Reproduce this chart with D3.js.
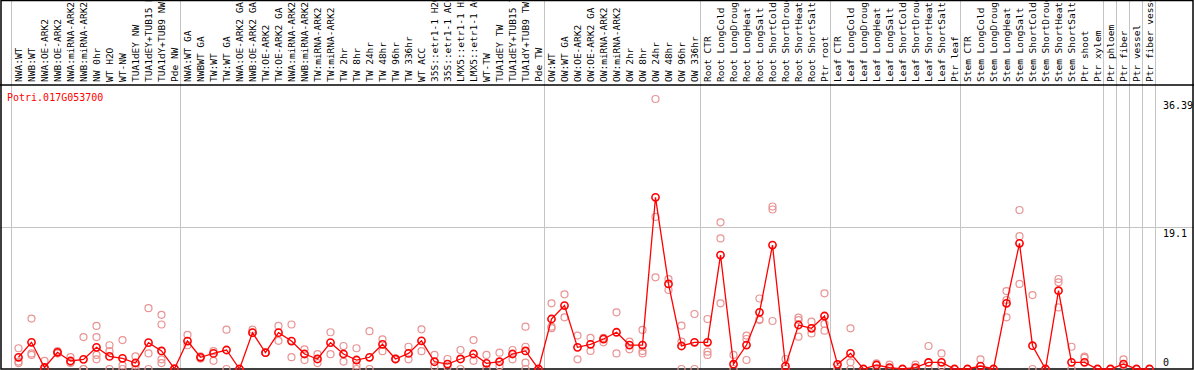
<!DOCTYPE html>
<html>
<head>
<meta charset="utf-8">
<script src="https://cdn.jsdelivr.net/npm/d3@7"></script>
<style>
  body { margin: 0; background: #fff; }
  svg { display: block; }
</style>
</head>
<body>
<div id="chart"></div>
<script>
// gene shown
const geneId = "Potri.017G053700";

// sample names, left to right
const samples = [
  "NWA:WT", "NWB:WT", "NWA:OE-ARK2", "NWB:OE-ARK2", "NWA:miRNA-ARK2", "NWB:miRNA-ARK2",
  "NW 0hr", "WT H2O", "WT-NW", "TUA1dEY NW", "TUA1dEY+TUB15 NW", "TUA1dY+TUB9 NW", "Pde NW",
  "NWA:WT GA", "NWBWT GA", "TW:WT", "TW:WT GA", "NWA:OE-ARK2 GA", "NWB:OE-ARK2 GA",
  "TW:OE-ARK2", "TW:OE-ARK2 GA", "NWA:miRNA-ARK2", "NWB:miRNA-ARK2", "TW:miRNA-ARK2",
  "TW:miRNA-ARK2", "TW 2hr", "TW 8hr", "TW 24hr", "TW 48hr", "TW 96hr", "TW 336hr",
  "WT ACC", "35S::etr1-1 H2O", "35S::etr1-1 ACC", "LMX5::etr1-1 H2O", "LMX5::etr1-1 ACC",
  "WT-TW", "TUA1dEY TW", "TUA1dEY+TUB15 TW", "TUA1dY+TUB9 TW", "Pde TW",
  "OW:WT", "OW:WT GA", "OW:OE-ARK2", "OW:OE-ARK2 GA", "OW:miRNA-ARK2", "OW:miRNA-ARK2",
  "OW 2hr", "OW 8hr", "OW 24hr", "OW 48hr", "OW 96hr", "OW 336hr",
  "Root CTR", "Root LongCold", "Root LongDrought", "Root LongHeat", "Root LongSalt",
  "Root ShortCold", "Root ShortDrought", "Root ShortHeat", "Root ShortSalt", "Ptr root",
  "Leaf CTR", "Leaf LongCold", "Leaf LongDrought", "Leaf LongHeat", "Leaf LongSalt",
  "Leaf ShortCold", "Leaf ShortDrought", "Leaf ShortHeat", "Leaf ShortSalt", "Ptr leaf",
  "Stem CTR", "Stem LongCold", "Stem LongDrought", "Stem LongHeat", "Stem LongSalt",
  "Stem ShortCold", "Stem ShortDrought", "Stem ShortHeat", "Stem ShortSalt", "Ptr shoot",
  "Ptr xylem", "Ptr phloem", "Ptr fiber", "Ptr vessel", "Ptr fiber vessel"
];

// where each block of samples ends (sample count)
const groupEnds = [13, 41, 53, 63, 73, 84, 85, 86, 87, 88];

// mean expression per sample
const means = [
  1.58, 3.6, 0.2, 2.25, 1.08, 1.3, 2.92, 1.7, 1.44, 0.81, 3.55, 2.43, 0.04,
  3.77, 1.58, 2.1, 2.56, 0, 4.9, 2.2, 4.9, 3.77, 2.02, 1.35, 3.55, 2.02, 1.21, 1.58,
  3.33, 1.35, 2.1, 3.8, 0.98, 0.67, 1.35, 2.02, 0.77, 0.98, 2.02, 2.43, 0,
  6.74, 8.55, 2.92, 3.33, 4.04, 4.95, 3.23, 3.23, 23.14, 11.46, 3.1, 3.6,
  3.6, 15.36, 0.65, 3.23, 7.64, 16.7, 0.4, 5.93, 5.48, 7.14,
  0.63, 2.1, 0, 0.54, 0.18, 0, 0.18, 0.88, 0.9, 0,
  0, 0.4, 0, 8.85, 16.94, 3.14, 0, 10.55, 0.9, 0.9, 0,
  0, 0.67, 0, 0
];

// single replicate values per sample
const replicates = [
  [2.8, 1.0, 0.8], [6.8, 2.1, 1.9], [1.1, 0, 0], [2.4, 2.2, 2.1], [1.6, 0.8, 0.9],
  [4.3, 0, 0], [5.8, 4.3, 1.9, 1.3], [3.2, 2.4, 0], [3.9, 0.5, 0], [1.7, 0.5, 0],
  [8.2, 2.1, 0], [7.3, 6.0, 1.3, 0.8], [0, 0, 0],
  [4.6, 3.2], [1.6, 1.4, 1.7], [2.4, 1.1], [5.3, 0], [0, 0], [5.3, 4.9], [2.2, 2.2],
  [5.8, 3.8], [6.0, 1.6], [2.65, 1.2], [2.0, 0.8], [4.95, 2.0], [3.1, 1.0], [2.8, 0.5, 0],
  [5.1, 0], [4.0, 2.4], [1.4, 1.3], [3.0, 1.3], [5.35, 2.4], [1.9, 0.3], [1.35, 0.3],
  [2.56, 0], [3.9, 1.1], [1.9, 0], [2.2, 0.4], [2.56, 1.3], [5.7, 3.0, 0.85, 0], [0, 0],
  [8.85, 5.7, 5.5], [10.07, 6.97], [4.5, 1.3], [4.2, 2.43], [4.2, 3.6], [7.64, 2.1],
  [3.68, 2.65], [5.26, 2.43, 2.1], [36.39, 20.5, 12.36], [12.1, 10.65], [5.84, 3.68, 0],
  [7.41, 0],
  [6.74, 2.33, 1.9], [19.77, 17.6, 8.85], [1.9, 0], [4.5, 4.04, 1.21], [9.5, 6.7, 6.6],
  [21.9, 21.5, 6.47], [1.35, 0], [6.92, 6.6, 4.35], [6.38, 4.8], [10.2, 6.07, 5.16],
  [0, 0], [5.48, 0.9, 0], [0, 0], [0.77, 0], [0.6, 0], [0, 0], [0.6, 0], [3.1, 0],
  [2.1, 0.4], [0, 0],
  [0, 0], [1.3, 0], [0, 0], [10.5, 9.3, 6.97], [21.43, 17.9, 11.46], [9.97, 0], [0, 0],
  [12.13, 11.68, 8.3], [3.0, 0], [1.66, 1.5], [0, 0],
  [0, 0], [1.3, 0.5], [0, 0], [0, 0]
];

// value labels on the right
const yTicks = [36.39, 19.1, 0];

const width = 1194, height = 370;
const headerH = 85, plotBottom = 369;
const mono = "'DejaVu Sans Mono', monospace";

const svg = d3.select("#chart").append("svg")
  .attr("width", width)
  .attr("height", height)
  .attr("viewBox", [0, 0, width, height]);

const x = d3.scaleBand()
  .domain(d3.range(samples.length))
  .range([11.5, 11.5 + 13 * samples.length]);

const y = d3.scaleLinear()
  .domain([0, d3.max(yTicks)])
  .range([plotBottom, 99]);

const cx = i => x(i) + x.bandwidth() / 2 + 0.5;

// horizontal grid (only the middle value)
svg.append("g")
  .selectAll("line")
  .data(yTicks.filter(v => v > 0 && v < d3.max(yTicks)))
  .join("line")
  .attr("x1", 0).attr("x2", width)
  .attr("y1", d => Math.round(y(d)) + 0.5).attr("y2", d => Math.round(y(d)) + 0.5)
  .attr("stroke", "#c4c4c4");

// group separators, full height
svg.append("g")
  .selectAll("line")
  .data([0].concat(groupEnds))
  .join("line")
  .attr("x1", d => x.range()[0] + d * x.step())
  .attr("x2", d => x.range()[0] + d * x.step())
  .attr("y1", 0).attr("y2", plotBottom)
  .attr("stroke", "#c4c4c4");

// sample labels, rotated
svg.append("g")
  .attr("font-family", mono)
  .attr("font-size", 9.5)
  .selectAll("text")
  .data(samples)
  .join("text")
  .attr("transform", (d, i) => `translate(${cx(i)},82) rotate(-90)`)
  .attr("dy", "0.35em")
  .text(d => d);

// frame + header separator
svg.append("rect")
  .attr("x", 1).attr("y", 0.5)
  .attr("width", width - 2).attr("height", plotBottom - 0.5)
  .attr("fill", "none").attr("stroke", "#000").attr("stroke-width", 1.5);
svg.append("line")
  .attr("x1", 0).attr("x2", width)
  .attr("y1", headerH).attr("y2", headerH)
  .attr("stroke", "#000").attr("stroke-width", 1.5);

// gene name
svg.append("text")
  .attr("x", 7).attr("y", 101)
  .attr("font-family", mono).attr("font-size", 10)
  .attr("fill", "#f00")
  .text(geneId);

// value labels
svg.append("g")
  .attr("font-family", mono).attr("font-size", 10)
  .selectAll("text")
  .data(yTicks)
  .join("text")
  .attr("x", 1163)
  .attr("y", d => d === 0 ? y(d) - 3 : y(d) + 10)
  .text(d => d);

// replicates
const repPts = [];
replicates.forEach((r, i) => r.forEach(v => repPts.push({ i: i, v: v })));
svg.append("g")
  .attr("fill", "none")
  .attr("stroke", "#e89494")
  .attr("stroke-width", 1.2)
  .selectAll("circle")
  .data(repPts)
  .join("circle")
  .attr("cx", d => cx(d.i))
  .attr("cy", d => y(d.v))
  .attr("r", 3.5);

// mean line + points
svg.append("path")
  .datum(means)
  .attr("fill", "none")
  .attr("stroke", "#f00")
  .attr("stroke-width", 1.3)
  .attr("d", d3.line().x((d, i) => cx(i)).y(d => y(d)));

svg.append("g")
  .attr("fill", "none")
  .attr("stroke", "#f00")
  .attr("stroke-width", 1.6)
  .selectAll("circle")
  .data(means)
  .join("circle")
  .attr("cx", (d, i) => cx(i))
  .attr("cy", d => y(d))
  .attr("r", 3.6);
</script>
</body>
</html>
